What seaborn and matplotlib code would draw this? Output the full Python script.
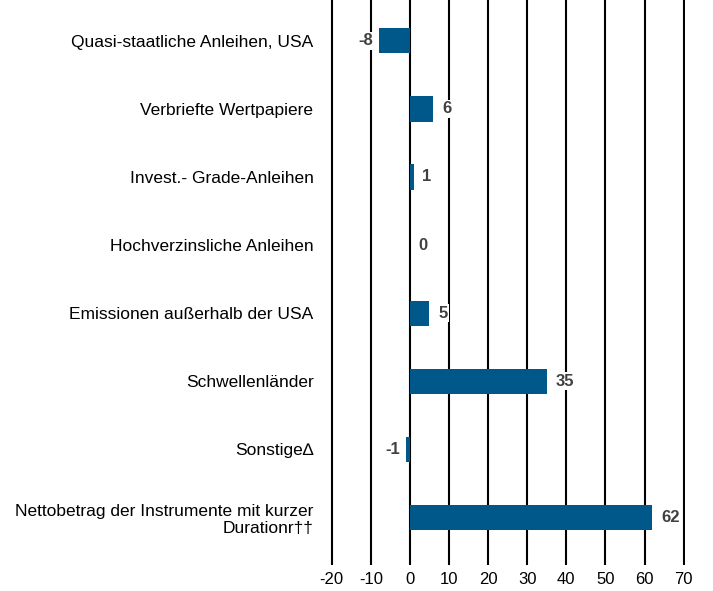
import matplotlib
matplotlib.use("Agg")
import matplotlib.pyplot as plt
import seaborn as sns
import pandas as pd

categories = [
    "Quasi-staatliche Anleihen, USA",
    "Verbriefte Wertpapiere",
    "Invest.- Grade-Anleihen",
    "Hochverzinsliche Anleihen",
    "Emissionen außerhalb der USA",
    "Schwellenländer",
    "Sonstige\u2206",
    "Nettobetrag der Instrumente mit kurzer\nDurationr\u2020\u2020",
]
values = [-8, 6, 1, 0, 5, 35, -1, 62]
xticks = [-20, -10, 0, 10, 20, 30, 40, 50, 60, 70]

sns.set_style("white")
plt.rcParams["font.family"] = ["Liberation Sans", "DejaVu Sans"]
plt.rcParams["text.color"] = "black"
plt.rcParams["xtick.color"] = "black"
plt.rcParams["ytick.color"] = "black"

df = pd.DataFrame({"cat": categories, "val": values})

fig = plt.figure(figsize=(7.13, 5.91), dpi=100)
ax = fig.add_axes([0.463, 0.044, 0.498, 0.956])

for t in xticks:
    ax.axvline(t, color="black", lw=1.5, zorder=0)

sns.barplot(data=df, x="val", y="cat", orient="h", color="#00578A",
            width=0.37, ax=ax, zorder=2, saturation=1, linewidth=0)

for i, v in enumerate(values):
    if v < 0:
        ax.text(v - 1.5, i, f"{v}", ha="right", va="center", fontsize=12,
                fontweight="bold", color="#404040", zorder=3,
                bbox=dict(facecolor="white", edgecolor="none", pad=1))
    else:
        ax.text(v + 2.2, i, f"{v}", ha="left", va="center", fontsize=12,
                fontweight="bold", color="#404040", zorder=3,
                bbox=dict(facecolor="white", edgecolor="none", pad=1))

ax.set_xlim(-20.4, 70.4)
ax.set_ylim(7.7, -0.6)
ax.set_xticks(xticks)
ax.set_xticklabels([str(t) for t in xticks], fontsize=12)
ax.set_xlabel("")
ax.set_ylabel("")
ax.tick_params(axis="y", length=0, pad=12, labelsize=12.5)
for lab in ax.get_yticklabels():
    lab.set_horizontalalignment("right")
ax.tick_params(axis="x", length=0, pad=5)
for s in ax.spines.values():
    s.set_visible(False)

fig.savefig("out.png", dpi=100)
